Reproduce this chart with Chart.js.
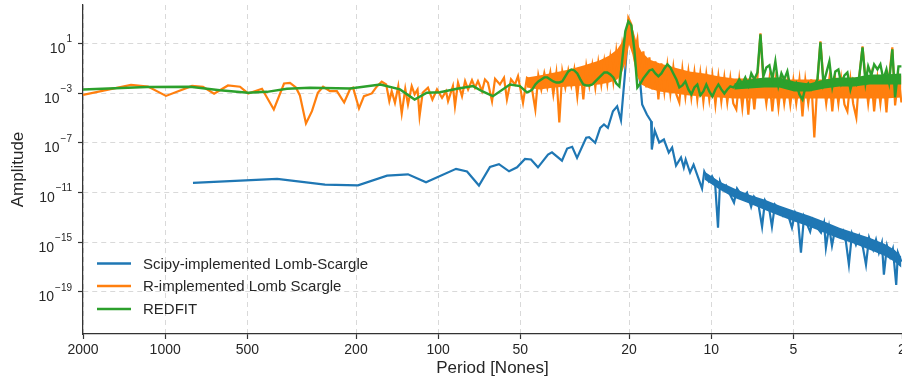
<!DOCTYPE html>
<html>
<head>
<meta charset="utf-8">
<script src="https://cdn.jsdelivr.net/npm/chart.js@4.4.1/dist/chart.umd.min.js"></script>
<style>
  html, body { margin: 0; padding: 0; background: #fff; overflow: hidden; }
  canvas { display: block; }
</style>
</head>
<body>
<canvas id="chart" width="902" height="382"></canvas>
<script>
// periodogramas: eixo x = período (log, invertido), eixo y = amplitude (log)
const FONT = '"Liberation Sans", Arial, Helvetica, sans-serif';
const TXT = '#262626';

const xTicks = [2000, 1000, 500, 200, 100, 50, 20, 10, 5, 2];
const yTickExps = [1, -3, -7, -11, -15, -19];
const seriesNames = ['Scipy-implemented Lomb-Scargle', 'R-implemented Lomb Scargle', 'REDFIT'];

// Scipy Lomb-Scargle (amplitudes as log10)
const scipyPeriods = [
  791, 389, 259.8, 196.7, 153.9, 129, 110.8, 86.0, 78.4, 70.9,
  64.6, 59.9, 55.0, 51.4, 48.1, 45.7, 43.1, 39.6, 38.3, 35.2,
  33.7, 32.3, 31.0, 28.7, 28.0, 26.6, 25.5, 24.7, 23.9, 22.9,
  22.1, 21.4, 20.7, 20.3, 20.0, 19.5, 18.9, 18.2, 17.9, 17.2,
  16.6, 16.5, 16.1, 15.5, 14.9, 14.3, 13.9, 13.45, 12.9, 12.6,
  12.4, 11.95, 11.6, 11.2, 10.8, 10.6, 10.2, 9.93, 9.68, 9.44,
  9.28, 9.05, 8.82, 8.53, 8.25, 8.04, 7.91, 7.64, 7.39, 7.14,
  6.97, 6.74, 6.51, 6.35, 6.14, 5.99, 5.84, 5.64, 5.46, 5.32,
  5.19, 5.06, 4.93, 4.81, 4.69, 4.57, 4.46, 4.34, 4.24, 4.09,
  3.96, 3.86, 3.80, 3.70, 3.61, 3.52, 3.40, 3.29, 3.21, 3.13,
  3.05, 2.95, 2.87, 2.78, 2.71, 2.64, 2.55, 2.49, 2.43, 2.37,
  2.33, 2.27, 2.21, 2.16, 2.10, 2.07, 2.01
];
const scipyLogAmp = [
  -10.23, -9.91, -10.37, -10.43, -9.65, -9.54, -10.19, -9.1, -9.32, -10.45,
  -8.94, -8.73, -9.3, -8.98, -8.3, -8.35, -8.98, -7.95, -7.77, -8.44,
  -7.47, -7.33, -8.22, -6.6, -6.55, -7.0, -5.8, -5.53, -5.8, -4.46,
  -4.06, -5.19, -1.5, 0.92, 1.8, 1.16, -0.13, -2.15, -3.92, -4.73,
  -5.27, -7.55, -6.02, -6.98, -6.74, -7.79, -7.39, -8.84, -8.19, -9.0,
  -8.35, -9.4, -8.76, -9.7, -10.69, -9.32, -10.1, -9.7, -10.2, -13.84,
  -10.13, -10.77, -10.45, -11.18, -11.82, -10.69, -10.94, -11.34, -11.02, -12.15,
  -11.34, -11.74, -13.76, -11.66, -12.23, -13.76, -11.98, -12.39, -12.87, -12.47,
  -13.03, -13.84, -12.63, -13.19, -15.85, -12.95, -13.52, -14.16, -13.19, -13.84,
  -14.24, -13.44, -15.45, -13.76, -15.29, -14.0, -14.48, -14.08, -14.97, -16.82,
  -14.32, -15.21, -14.48, -15.45, -16.82, -14.65, -15.61, -14.81, -15.85, -15.05,
  -17.63, -15.29, -16.18, -15.53, -18.44, -15.85, -16.58
];
// thick band of the scipy tail (upper / lower edge)
const scipyBandPeriods = [10.59, 9.33, 8.23, 7.25, 6.39, 5.63, 4.96, 4.37, 3.85, 3.39, 2.99, 2.63, 2.32, 2.13, 2.01];
const scipyBandTop = [-9.32, -10.13, -10.69, -11.18, -11.58, -12.06, -12.47, -12.87, -13.35, -13.84, -14.24, -14.65, -15.13, -15.61, -16.18];
const scipyBandBottom = [-9.97, -10.77, -11.42, -11.9, -12.39, -12.87, -13.35, -13.76, -14.24, -14.73, -15.13, -15.61, -16.1, -16.58, -17.06];

// R Lomb-Scargle, long periods (sparse part)
const rSparsePeriods = [
  2000, 1334, 1156, 993, 797, 727, 662, 589, 532, 497,
  442, 400, 367, 349, 332, 321, 305, 290, 276, 264,
  249, 235, 221, 210, 205, 195, 187, 175, 168, 161,
  155, 151, 148, 144, 140, 136, 132, 129, 125, 122,
  119, 117, 114, 109, 105, 101, 96.8, 93.6, 92.0, 88.3,
  86.8, 84.6, 81.8, 79.7, 77.7, 75.2, 73.3, 71.5, 69.1, 67.4,
  65.7, 63.5, 61.9, 59.4, 57.4, 56.0, 54.1, 52.3, 51.0, 48.9,
  47.3
];
const rSparseLogAmp = [
  -3.15, -2.35, -2.47, -3.23, -2.43, -2.49, -3.06, -2.39, -2.49, -3.03,
  -2.65, -4.32, -2.23, -2.19, -2.55, -3.19, -5.45, -4.46, -2.98, -2.49,
  -2.85, -2.85, -3.76, -2.65, -2.57, -4.24, -3.25, -3.03, -2.49, -2.09,
  -2.31, -3.65, -2.85, -3.78, -2.44, -4.65, -2.65, -3.92, -2.44, -3.11,
  -2.71, -4.86, -2.98, -2.57, -3.52, -2.71, -3.38, -2.85, -3.65, -2.44,
  -4.06, -2.17, -3.25, -2.04, -2.71, -1.96, -2.57, -2.04, -2.85, -1.9,
  -2.17, -3.65, -1.85, -2.31, -1.77, -3.52, -1.9, -2.31, -1.64, -3.78,
  -1.77
];

// short periods (dense part), shared by R and REDFIT
const densePeriods = [
  46.35, 45.19, 44.07, 42.97, 41.90, 40.85, 39.82, 38.83, 37.86, 36.92,
  36.00, 35.10, 34.22, 33.37, 32.53, 31.72, 30.93, 30.15, 29.40, 28.67,
  27.95, 27.25, 26.57, 25.91, 25.26, 24.63, 24.01, 23.41, 22.83, 22.26,
  21.70, 21.16, 20.63, 20.11, 19.61, 19.12, 18.64, 18.17, 17.72, 17.28,
  16.84, 16.42, 16.01, 15.61, 15.22, 14.84, 14.47, 14.11, 13.76, 13.41,
  13.08, 12.75, 12.43, 12.12, 11.82, 11.52, 11.24, 10.96, 10.68, 10.42,
  10.16, 9.90, 9.65, 9.41, 9.18, 8.95, 8.73, 8.51, 8.30, 8.09,
  7.89, 7.69, 7.50, 7.31, 7.13, 6.95, 6.77, 6.60, 6.44, 6.28,
  6.12, 5.97, 5.82, 5.67, 5.53, 5.40, 5.26, 5.13, 5.00, 4.88,
  4.75, 4.63, 4.52, 4.41, 4.30, 4.19, 4.08, 3.98, 3.88, 3.79,
  3.69, 3.60, 3.51, 3.42, 3.34, 3.25, 3.17, 3.09, 3.02, 2.94,
  2.87, 2.79, 2.72, 2.66, 2.59, 2.53, 2.46, 2.40, 2.34, 2.28,
  2.23, 2.17, 2.12, 2.06, 2.01
];
const rDenseLogAmp = [
  -1.90, -2.87, -4.32, -1.58, -2.71, -1.42, -2.55, -1.34, -3.11, -1.42,
  -5.37, -1.26, -2.55, -1.18, -2.39, -1.10, -3.27, -0.94, -3.52, -0.85,
  -2.39, -0.77, -2.55, -0.53, -2.31, -0.45, -2.23, -0.13, -2.06, 0.35,
  -1.74, 0.92, -0.45, 3.05, 2.53, 0.11, 1.32, -2.06, 0.35, -2.55,
  -0.13, -2.71, -0.45, -3.52, -0.61, -2.87, -0.77, -3.03, -0.94, -3.11,
  -3.76, -1.10, -3.27, -1.26, -3.35, -1.34, -3.52, -1.42, -3.68, -1.50,
  -3.52, -1.58, -3.92, -1.66, -3.68, -1.74, -3.76, -1.82, -3.84, -4.32,
  -1.90, -4.16, -1.82, -4.73, -1.90, -4.32, -1.74, 1.81, -2.06, -3.84,
  -1.90, -4.48, -1.98, -4.16, -1.90, -3.84, -2.06, -3.92, -1.98, -3.84,
  -1.90, -4.89, -1.98, -3.84, -1.90, -6.58, -2.06, 1.16, -1.98, -3.84,
  -1.82, -4.48, -1.90, -3.84, -1.82, -3.92, -4.48, -1.90, -3.84, -4.97,
  -1.74, 0.76, -1.90, -3.84, -1.74, -4.48, -1.82, -3.84, -1.66, -4.56,
  -1.74, 0.68, -4.00, -1.66, -3.76
];
// R band (upper / lower edge of the dense noise)
const rBandPeriods = [
  47.3, 42.6, 37.5, 33.1, 29.15, 25.68, 23.6, 22.07, 21.16, 20.45,
  20.0, 19.44, 18.80, 18.03, 16.84, 15.48, 13.64, 12.02, 10.59, 9.33,
  8.23, 7.25, 6.39, 5.63, 4.96, 4.37, 3.85, 3.39, 2.99, 2.63,
  2.32, 2.01
];
const rBandTop = [
  -1.74, -1.58, -1.34, -1.10, -0.77, -0.37, 0.03, 0.52, 1.16, 2.13,
  3.02, 2.29, 1.16, 0.35, -0.29, -0.61, -0.94, -1.26, -1.42, -1.66,
  -1.82, -1.82, -1.82, -1.90, -1.90, -1.90, -1.90, -1.82, -1.74, -1.74,
  -1.66, -1.58
];
const rBandBottom = [
  -2.55, -2.71, -2.55, -2.47, -2.39, -2.31, -2.15, -1.90, -1.26, -0.29,
  0.92, 0.11, -1.50, -2.31, -2.63, -2.87, -3.03, -3.19, -3.27, -3.35,
  -3.44, -3.44, -3.44, -3.44, -3.44, -3.44, -3.44, -3.44, -3.44, -3.44,
  -3.44, -3.35
];

// REDFIT
const redfitSmoothPeriods = [
  2000, 1166, 811, 630, 497, 424, 358, 295, 210, 163,
  138, 122, 110, 98.5, 85.3, 74.5, 69.1, 63.0, 54.6, 50.2,
  47.3
];
const redfitSmoothLogAmp = [
  -2.71, -2.51, -2.49, -2.77, -2.98, -2.90, -2.65, -2.57, -2.63, -2.31,
  -2.71, -3.52, -2.98, -2.93, -2.65, -2.44, -2.85, -3.25, -2.31, -2.44,
  -2.95
];
const redfitDenseLogAmp = [
  -2.87, -2.71, -2.31, -2.06, -1.90, -1.74, -1.74, -1.90, -2.06, -2.15,
  -2.15, -2.06, -1.66, -1.26, -1.10, -1.18, -1.42, -1.90, -2.31, -2.39,
  -2.39, -2.31, -2.06, -1.82, -1.58, -1.34, -1.34, -1.50, -1.74, -2.23,
  -2.47, -0.29, 1.97, 2.77, 2.45, 0.52, -2.55, -2.23, -1.82, -1.50,
  -1.18, -1.10, -1.42, -1.66, -1.42, -1.02, -0.69, -0.94, -1.42, -1.90,
  -2.55, -2.39, -2.06, -2.71, -3.11, -2.55, -2.31, -3.19, -2.87, -2.31,
  -2.87, -3.27, -2.71, -2.31, -2.71, -3.03, -2.71, -2.47, -2.55, -2.31,
  -1.90, -2.23, -1.74, -2.39, -1.42, -1.90, -1.34, 1.73, -1.66, -0.94,
  -0.77, -1.90, -0.45, -2.39, -1.42, -1.90, -1.26, -2.55, -2.71, -2.23,
  -3.11, -3.52, -2.55, -2.23, -2.71, -2.39, -1.90, 1.08, -2.23, -1.42,
  -0.45, -2.47, -1.26, -1.10, -2.23, -1.58, -1.34, -2.71, -1.90, -2.31,
  -1.74, 0.68, -2.15, -0.85, -1.58, -0.69, -1.10, -0.69, -1.90, -1.10,
  -2.15, 0.52, -3.35, -0.85, -0.85
];
const redfitBandPeriods = [8.23, 7.25, 6.39, 5.63, 4.96, 4.37, 3.85, 3.39, 2.99, 2.63, 2.32, 2.01];
const redfitBandTop = [-2.23, -1.90, -1.74, -1.74, -2.06, -2.23, -1.90, -1.74, -1.74, -1.50, -1.50, -1.42];
const redfitBandBottom = [-2.71, -2.63, -2.55, -2.55, -2.87, -2.87, -2.63, -2.47, -2.47, -2.31, -2.31, -2.31];

const colors = ['#1f77b4', '#ff7f0e', '#2ca02c'];

function toPoints(periods, logAmps) {
  return periods.map((p, i) => ({ x: p, y: Math.pow(10, logAmps[i]) }));
}

function lineSet(label, data, color, width, order) {
  return { label, data, borderColor: color, borderWidth: width, pointRadius: 0, fill: false, order };
}

// faixa preenchida entre duas bordas (o ruído denso)
function bandSets(periods, top, bottom, color, order) {
  return [
    { data: toPoints(periods, top), borderWidth: 0, pointRadius: 0, backgroundColor: color, fill: '+1', order },
    { data: toPoints(periods, bottom), borderWidth: 0, pointRadius: 0, fill: false, order }
  ];
}

// rótulos 10^n e legenda desenhados à mão (estilo matplotlib)
const overlay = {
  id: 'overlay',
  afterDraw(chart) {
    const { ctx, scales: { y } } = chart;
    ctx.save();
    ctx.fillStyle = TXT;
    ctx.textAlign = 'right';
    ctx.textBaseline = 'alphabetic';
    yTickExps.forEach(e => {
      const py = y.getPixelForValue(Math.pow(10, e));
      const sup = (e < 0 ? '\u2212' : '') + Math.abs(e);
      ctx.font = '10px ' + FONT;
      const w = ctx.measureText(sup).width;
      ctx.fillText(sup, 72, py - 1);
      ctx.font = '14px ' + FONT;
      ctx.fillText('10', 72 - w - 1, py + 9.5);
    });

    // legenda
    const rows = [263.5, 286, 309];
    ctx.textAlign = 'left';
    ctx.textBaseline = 'middle';
    ctx.font = '15px ' + FONT;
    seriesNames.forEach((name, i) => {
      ctx.strokeStyle = colors[i];
      ctx.lineWidth = 2.6;
      ctx.beginPath();
      ctx.moveTo(97, rows[i]);
      ctx.lineTo(131, rows[i]);
      ctx.stroke();
      ctx.fillStyle = TXT;
      ctx.fillText(name, 143, rows[i] + 1);
    });
    ctx.restore();
  }
};

const gridOpts = { color: '#d9d9d9', lineWidth: 1, tickLength: 5, tickColor: '#333', tickWidth: 1.2, tickBorderDash: [] };
const borderOpts = { color: '#333', width: 1.25, dash: [5, 4] };

new Chart(document.getElementById('chart').getContext('2d'), {
  type: 'line',
  data: {
    datasets: [
      ...bandSets(scipyBandPeriods, scipyBandTop, scipyBandBottom, colors[0], 3.5),
      lineSet(seriesNames[0], toPoints(scipyPeriods, scipyLogAmp), colors[0], 2.2, 3),
      ...bandSets(rBandPeriods, rBandTop, rBandBottom, colors[1], 2.5),
      lineSet(seriesNames[1], toPoints(rSparsePeriods.concat(densePeriods), rSparseLogAmp.concat(rDenseLogAmp)), colors[1], 2.2, 2),
      ...bandSets(redfitBandPeriods, redfitBandTop, redfitBandBottom, colors[2], 1.5),
      lineSet(seriesNames[2], toPoints(redfitSmoothPeriods.concat(densePeriods), redfitSmoothLogAmp.concat(redfitDenseLogAmp)), colors[2], 2.4, 1)
    ]
  },
  options: {
    responsive: false,
    animation: false,
    devicePixelRatio: 1,
    layout: { padding: { top: 5, right: 0, bottom: 0, left: 0 } },
    plugins: { legend: { display: false }, tooltip: { enabled: false } },
    scales: {
      x: {
        type: 'logarithmic', reverse: true, min: 2, max: 2000,
        afterBuildTicks: s => { s.ticks = xTicks.map(v => ({ value: v })); },
        afterFit: s => { s.height = 48; s.paddingLeft = 0; s.paddingRight = 0; },
        ticks: { autoSkip: false, maxRotation: 0, padding: 3, color: TXT,
                 font: { family: FONT, size: 14 }, callback: v => String(v) },
        grid: gridOpts,
        border: borderOpts,
        title: { display: true, text: 'Period [Nones]', color: TXT,
                 font: { family: FONT, size: 17 }, padding: { top: 0, bottom: 3 } }
      },
      y: {
        type: 'logarithmic', min: Math.pow(10, -22.4), max: Math.pow(10, 4.09),
        afterBuildTicks: s => { s.ticks = yTickExps.map(e => ({ value: Math.pow(10, e) })); },
        afterFit: s => { s.width = 83; s.paddingTop = 0; s.paddingBottom = 0; },
        ticks: { autoSkip: false, callback: () => '' },
        grid: gridOpts,
        border: borderOpts,
        title: { display: true, text: 'Amplitude', color: TXT,
                 font: { family: FONT, size: 17 }, padding: { top: 8, bottom: 0 } }
      }
    }
  },
  plugins: [overlay]
});
</script>
</body>
</html>
